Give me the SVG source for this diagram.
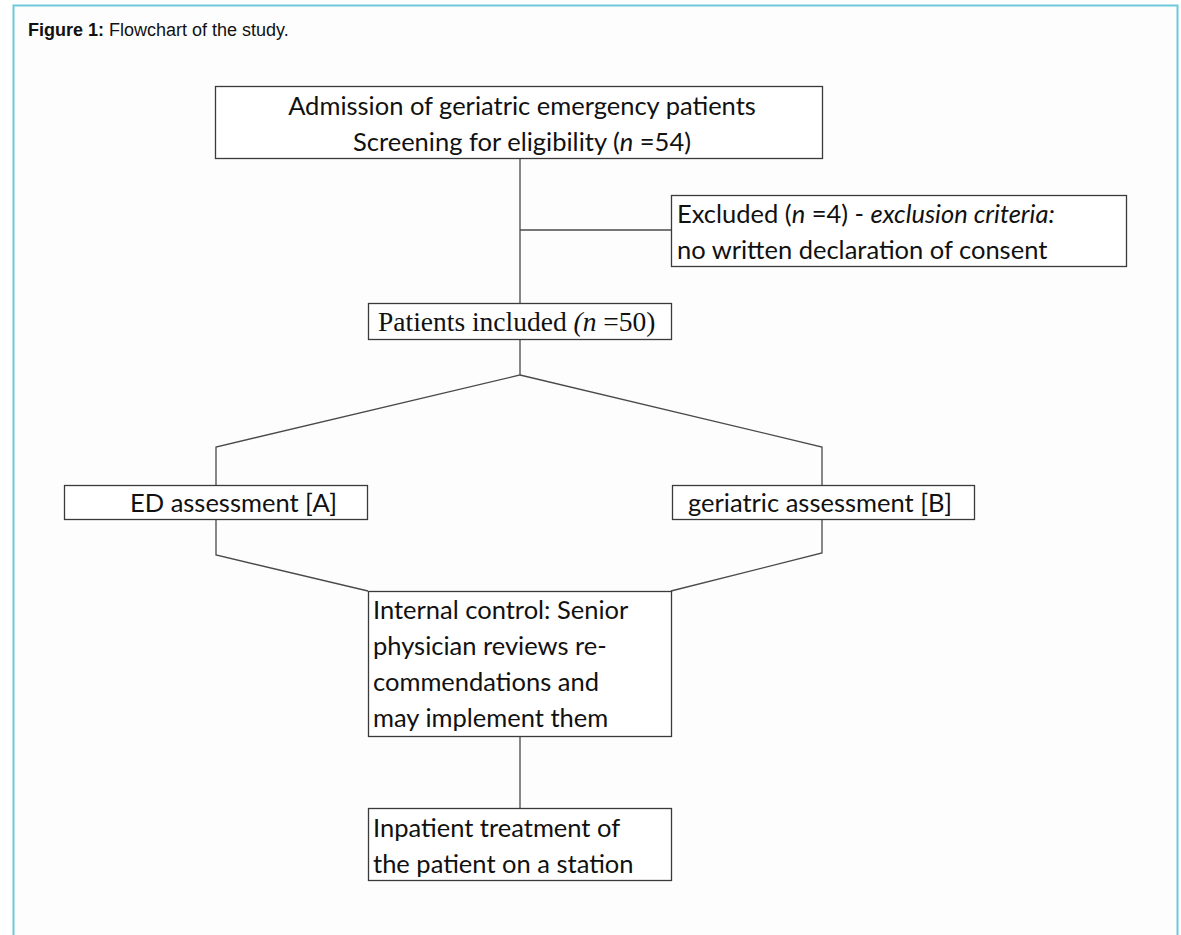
<svg xmlns="http://www.w3.org/2000/svg" width="1181" height="935" viewBox="0 0 1181 935">
<style>
.box{fill:#fff;stroke:#3a3a3a;stroke-width:1.3}
.ln{fill:none;stroke:#4a4a4a;stroke-width:1.3}
.t{font-family:Lato,"Open Sans",sans-serif;font-size:25.5px;fill:#111}
.s{font-family:"Liberation Serif",serif;font-size:27.5px;fill:#111}
.cap{font-family:"Liberation Sans",Arial,sans-serif;font-size:18px;fill:#111}
</style>
<rect x="0" y="0" width="1181" height="935" fill="#fff"/>
<rect x="13.5" y="5.5" width="1164" height="960" fill="#fdfdfd" stroke="#6cc9dc" stroke-width="2"/>
<text class="cap" x="28" y="36"><tspan font-weight="bold">Figure 1:</tspan> Flowchart of the study.</text>
<g id="connectors">
<path class="ln" d="M520 158.5V303"/>
<path class="ln" d="M520 230H671.5"/>
<path class="ln" d="M520 339V375L216 447V485"/>
<path class="ln" d="M520 375L822 447V485"/>
<path class="ln" d="M216 519V555L368 591"/>
<path class="ln" d="M822 519V553L671 591"/>
<path class="ln" d="M520 736V808"/>
</g>
<g id="admission">
<rect class="box" x="215.5" y="86.5" width="607" height="72"/>
<text class="t" x="522" y="115" text-anchor="middle">Admission of geriatric emergency patients</text>
<text class="t" x="522" y="151" text-anchor="middle">Screening for eligibility (<tspan font-style="italic">n</tspan> =54)</text>
</g>
<g id="excluded">
<rect class="box" x="671.5" y="195.5" width="455" height="71"/>
<text class="t" x="677" y="223">Excluded (<tspan font-style="italic">n</tspan> =4) - <tspan font-style="italic">exclusion criteria:</tspan></text>
<text class="t" x="677" y="259">no written declaration of consent</text>
</g>
<g id="included">
<rect class="box" x="368.5" y="303.5" width="303" height="36"/>
<text class="s" x="378" y="331">Patients included <tspan font-style="italic">(n</tspan> =50)</text>
</g>
<g id="ed">
<rect class="box" x="64.5" y="485.5" width="303" height="34"/>
<text class="t" x="130" y="512">ED assessment [A]</text>
</g>
<g id="geriatric">
<rect class="box" x="672.5" y="485.5" width="302" height="34"/>
<text class="t" x="688" y="512">geriatric assessment [B]</text>
</g>
<g id="internal">
<rect class="box" x="368.5" y="591.5" width="303" height="145"/>
<text class="t" x="373" y="619">Internal control: Senior</text>
<text class="t" x="373" y="655">physician reviews re-</text>
<text class="t" x="373" y="691">commendations and</text>
<text class="t" x="373" y="727">may implement them</text>
</g>
<g id="inpatient">
<rect class="box" x="368.5" y="808.5" width="303" height="72"/>
<text class="t" x="373" y="837">Inpatient treatment of</text>
<text class="t" x="373" y="873">the patient on a station</text>
</g>
</svg>
